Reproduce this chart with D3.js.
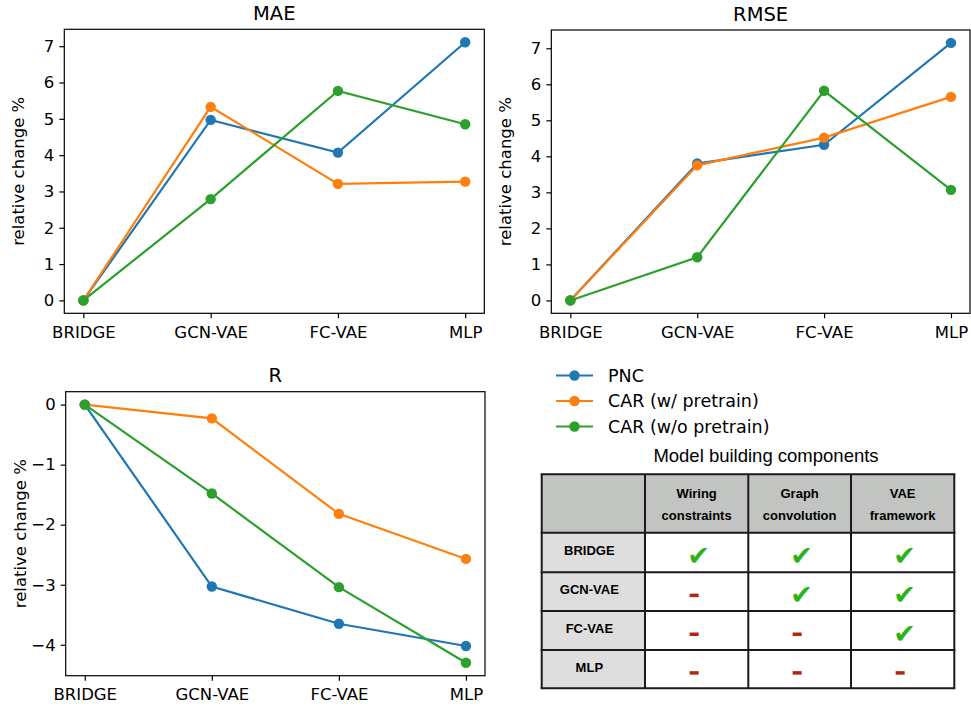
<!DOCTYPE html>
<html lang="en">
<head>
  <meta charset="UTF-8" />
  <title>Relative change vs BRIDGE</title>
  <script src="https://cdn.jsdelivr.net/npm/d3@7/dist/d3.min.js"></script>
  <style>
    body { margin: 0; background: #fff; font-family: "DejaVu Sans", sans-serif; }
    svg text { font-family: "DejaVu Sans", sans-serif; }
  </style>
</head>
<body>
  <svg id="fig" width="971" height="709"></svg>

  <script>
  // categories and series
  const models = ['BRIDGE', 'GCN-VAE', 'FC-VAE', 'MLP'];
  const seriesNames = ['PNC', 'CAR (w/ pretrain)', 'CAR (w/o pretrain)'];
  const colors = ['#1f77b4', '#ff7f0e', '#2ca02c'];

  const maePNC    = [0, 4.97, 4.07, 7.11];
  const maeCARw   = [0, 5.33, 3.21, 3.27];
  const maeCARwo  = [0, 2.79, 5.77, 4.85];

  const rmsePNC   = [0, 3.80, 4.32, 7.15];
  const rmseCARw  = [0, 3.75, 4.52, 5.65];
  const rmseCARwo = [0, 1.20, 5.82, 3.07];

  const rPNC      = [0, -3.03, -3.65, -4.02];
  const rCARw     = [0, -0.23, -1.82, -2.57];
  const rCARwo    = [0, -1.48, -3.04, -4.30];

  const maeTicks  = [0, 1, 2, 3, 4, 5, 6, 7];
  const rmseTicks = [0, 1, 2, 3, 4, 5, 6, 7];
  const rTicks    = [0, -1, -2, -3, -4];

  // table
  const components = [['Wiring', 'constraints'], ['Graph', 'convolution'], ['VAE', 'framework']];
  const hasComponent = [
    [true,  true,  true],
    [false, true,  true],
    [false, false, true],
    [false, false, false]
  ];

  const svg = d3.select('#fig');
  const tableFont = 'Liberation Sans, Arial, sans-serif';

  function drawPanel(opt) {
    const { x0, x1, y0, y1, title, series, ticks } = opt;
    const g = svg.append('g');

    const all = series.flat();
    const lo = Math.min(...all), hi = Math.max(...all);
    const pad = (hi - lo) * 0.05;
    const y = d3.scaleLinear().domain([lo - pad, hi + pad]).range([y1, y0]);
    const x = d3.scaleLinear().domain([-0.15, models.length - 1 + 0.15]).range([x0, x1]);

    // axes
    const xa = g.append('g')
      .attr('transform', `translate(0,${y1})`)
      .call(d3.axisBottom(x).tickValues(d3.range(models.length))
        .tickFormat(i => models[i]).tickSize(5).tickPadding(8));
    const ya = g.append('g')
      .attr('transform', `translate(${x0},0)`)
      .call(d3.axisLeft(y).tickValues(ticks).tickSize(5).tickPadding(5).tickFormat(d3.format('d')));
    [xa, ya].forEach(a => {
      a.select('.domain').remove();
      a.selectAll('line').attr('stroke', '#000').attr('stroke-width', 1.2);
      a.selectAll('text').attr('fill', '#000').style('font-size', '16.5px');
    });

    // frame
    g.append('rect')
      .attr('x', x0).attr('y', y0)
      .attr('width', x1 - x0).attr('height', y1 - y0)
      .attr('fill', 'none').attr('stroke', '#000').attr('stroke-width', 1.2);

    // title
    g.append('text')
      .attr('x', (x0 + x1) / 2).attr('y', y0 - 9.5)
      .attr('text-anchor', 'middle')
      .style('font-size', '19.5px')
      .text(title);

    // y label
    g.append('text')
      .attr('transform', `translate(${x0 - 40},${(y0 + y1) / 2}) rotate(-90)`)
      .attr('text-anchor', 'middle')
      .style('font-size', '16.5px')
      .text('relative change %');

    const line = d3.line().x((d, i) => x(i)).y(d => y(d));
    series.forEach((vals, k) => {
      g.append('path')
        .datum(vals)
        .attr('fill', 'none')
        .attr('stroke', colors[k])
        .attr('stroke-width', 2.2)
        .attr('d', line);
      g.selectAll(null)
        .data(vals)
        .enter()
        .append('circle')
          .attr('cx', (d, i) => x(i))
          .attr('cy', d => y(d))
          .attr('r', 5.2)
          .attr('fill', colors[k]);
    });
  }

  drawPanel({ x0: 64.3, x1: 484.3, y0: 29.3, y1: 313.3, title: 'MAE',
    series: [maePNC, maeCARw, maeCARwo], ticks: maeTicks });
  drawPanel({ x0: 551.3, x1: 970, y0: 30, y1: 313.3, title: 'RMSE',
    series: [rmsePNC, rmseCARw, rmseCARwo], ticks: rmseTicks });
  drawPanel({ x0: 65.7, x1: 485, y0: 391.7, y1: 675.7, title: 'R',
    series: [rPNC, rCARw, rCARwo], ticks: rTicks });

  // legend
  const leg = svg.append('g').attr('transform', 'translate(556,375.5)');
  seriesNames.forEach((name, k) => {
    const row = leg.append('g').attr('transform', `translate(0,${k * 25.5})`);
    row.append('line').attr('x1', 0).attr('x2', 37).attr('y1', 0).attr('y2', 0)
      .attr('stroke', colors[k]).attr('stroke-width', 2.2);
    row.append('circle').attr('cx', 18.5).attr('cy', 0).attr('r', 5.2).attr('fill', colors[k]);
    row.append('text').attr('x', 52).attr('y', 0).attr('dy', '0.35em')
      .style('font-size', '17.5px').text(name);
  });

  // table of model building components
  const colEdges = [541.7, 645, 748.3, 851, 954.3];
  const rowEdges = [474.3, 532.7, 572.3, 611, 650, 688.3];

  svg.append('text')
    .attr('x', 766).attr('y', 462)
    .attr('text-anchor', 'middle')
    .style('font-family', tableFont)
    .style('font-size', '18.5px')
    .text('Model building components');

  const tg = svg.append('g');
  // fills
  tg.append('rect').attr('x', colEdges[0]).attr('y', rowEdges[0])
    .attr('width', colEdges[4] - colEdges[0]).attr('height', rowEdges[1] - rowEdges[0])
    .attr('fill', '#c2c4c2');
  tg.append('rect').attr('x', colEdges[0]).attr('y', rowEdges[1])
    .attr('width', colEdges[1] - colEdges[0]).attr('height', rowEdges[5] - rowEdges[1])
    .attr('fill', '#dedede');

  // header texts
  components.forEach((lines, c) => {
    const cx = (colEdges[c + 1] + colEdges[c + 2]) / 2;
    lines.forEach((t, j) => {
      tg.append('text')
        .attr('x', cx).attr('y', 497.5 + j * 22)
        .attr('text-anchor', 'middle')
        .style('font-family', tableFont)
        .style('font-weight', 'bold')
        .style('font-size', '13px')
        .text(t);
    });
  });

  // rows
  models.forEach((m, r) => {
    const cy = (rowEdges[r + 1] + rowEdges[r + 2]) / 2;
    tg.append('text')
      .attr('x', (colEdges[0] + colEdges[1]) / 2 - 4).attr('y', cy - 2)
      .attr('dy', '0.35em')
      .attr('text-anchor', 'middle')
      .style('font-family', tableFont)
      .style('font-weight', 'bold')
      .style('font-size', '13px')
      .text(m);
    hasComponent[r].forEach((ok, c) => {
      const cx = (colEdges[c + 1] + colEdges[c + 2]) / 2;
      if (ok) {
        tg.append('text')
          .attr('x', cx + 2).attr('y', cy + 3)
          .attr('dy', '0.35em')
          .attr('text-anchor', 'middle')
          .attr('fill', '#2db21a')
          .style('font-size', '27px')
          .text('\u2714');
      } else {
        tg.append('rect')
          .attr('x', cx - 7).attr('y', cy + 2)
          .attr('width', 9).attr('height', 3.5)
          .attr('fill', '#b3260e');
      }
    });
  });

  // grid lines
  colEdges.forEach(xv => {
    tg.append('line').attr('x1', xv).attr('x2', xv)
      .attr('y1', rowEdges[0]).attr('y2', rowEdges[5])
      .attr('stroke', '#1a1a1a').attr('stroke-width', 2);
  });
  rowEdges.forEach(yv => {
    tg.append('line').attr('x1', colEdges[0] - 1).attr('x2', colEdges[4] + 1)
      .attr('y1', yv).attr('y2', yv)
      .attr('stroke', '#1a1a1a').attr('stroke-width', 2);
  });
  </script>
</body>
</html>
